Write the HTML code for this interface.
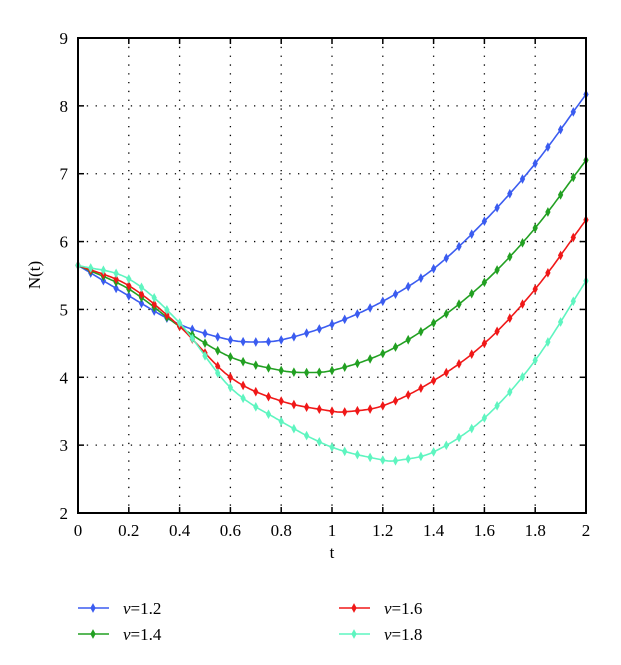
<!DOCTYPE html>
<html><head><meta charset="utf-8"><style>
body{margin:0;background:#fff;}
svg text{font-family:"Liberation Serif",serif;fill:#000;}
</style></head><body>
<svg id="s" width="621" height="660" xmlns="http://www.w3.org/2000/svg">
<rect width="621" height="660" fill="#fff"/>
<g id="grid" stroke="#000" stroke-width="1.3" stroke-dasharray="1.3,7.5"></g>
<g id="ticks" stroke="#000" stroke-width="1.5"></g>
<g id="curves"></g>
<rect x="78" y="38" width="508" height="475" fill="none" stroke="#000" stroke-width="2"/>
<g id="labels" font-size="17"></g>
<text x="332" y="558" font-size="17" text-anchor="middle">t</text>
<text x="40" y="275" font-size="17" text-anchor="middle" transform="rotate(-90 40 275)">N(t)</text>
<g id="legend" font-size="17"></g>
</svg>
<script>
const X=t=>78+t*254, Y=v=>513-(v-2)*67.857;
const ns="http://www.w3.org/2000/svg";
function el(p,tag,a,txt){const e=document.createElementNS(ns,tag);for(const k in a)e.setAttribute(k,a[k]);if(txt!=null)e.textContent=txt;document.getElementById(p).appendChild(e);return e;}
for(let i=1;i<10;i++){const x=X(i*0.2);el('grid','line',{x1:x,y1:38,x2:x,y2:513});el('ticks','line',{x1:x,y1:513,x2:x,y2:507});el('ticks','line',{x1:x,y1:38,x2:x,y2:44});}
for(let v=3;v<9;v++){const y=Y(v);el('grid','line',{x1:78,y1:y,x2:586,y2:y});el('ticks','line',{x1:78,y1:y,x2:84,y2:y});el('ticks','line',{x1:586,y1:y,x2:580,y2:y});}
const xl=['0','0.2','0.4','0.6','0.8','1','1.2','1.4','1.6','1.8','2'];
xl.forEach((s,i)=>el('labels','text',{x:X(i*0.2),y:536,'text-anchor':'middle'},s));
for(let v=2;v<=9;v++)el('labels','text',{x:68,y:Y(v)+6,'text-anchor':'end'},String(v));
const data=[
['#3b5cf0',[[0,5.65],[0.2,5.2],[0.4,4.78],[0.6,4.55],[0.7,4.52],[0.8,4.55],[1.0,4.78],[1.2,5.12],[1.4,5.6],[1.6,6.3],[1.8,7.15],[2.0,8.17]]],
['#22a022',[[0,5.65],[0.2,5.3],[0.4,4.75],[0.6,4.3],[0.8,4.1],[0.9,4.07],[1.0,4.1],[1.2,4.35],[1.4,4.8],[1.6,5.4],[1.8,6.2],[2.0,7.2]]],
['#f01818',[[0,5.65],[0.2,5.35],[0.4,4.75],[0.6,4.0],[0.8,3.65],[1.0,3.5],[1.05,3.49],[1.2,3.58],[1.4,3.95],[1.6,4.5],[1.8,5.3],[2.0,6.32]]],
['#5ff5c0',[[0,5.65],[0.2,5.45],[0.4,4.8],[0.6,3.85],[0.8,3.35],[1.0,2.97],[1.2,2.78],[1.25,2.77],[1.4,2.9],[1.6,3.4],[1.8,4.25],[2.0,5.42]]]];
function interp(p,t){let i=0;while(i<p.length-2&&p[i+1][0]<t)i++;
 const p0=p[Math.max(i-1,0)],p1=p[i],p2=p[i+1],p3=p[Math.min(i+2,p.length-1)];
 const h=p2[0]-p1[0],u=(t-p1[0])/h;
 const m1=(p2[1]-p0[1])/(p2[0]-p0[0]||1)*h, m2=(p3[1]-p1[1])/(p3[0]-p1[0]||1)*h;
 const u2=u*u,u3=u2*u;
 return (2*u3-3*u2+1)*p1[1]+(u3-2*u2+u)*m1+(-2*u3+3*u2)*p2[1]+(u3-u2)*m2;}
function marker(g,x,y,c){el(g,'path',{d:`M${x},${y-4}L${x+2.2},${y}L${x},${y+4}L${x-2.2},${y}Z`,fill:c,stroke:c,'stroke-width':0.8});}
data.forEach(([c,p])=>{let d='';for(let k=0;k<=200;k++){const t=k/100;d+=(k?'L':'M')+X(t).toFixed(1)+','+Y(interp(p,t)).toFixed(1);}
 el('curves','path',{d,fill:'none',stroke:c,'stroke-width':1.6});
 for(let k=0;k<=40;k++){const t=k*0.05;marker('curves',X(t),Y(interp(p,t)),c);}});
const leg=[[78,608,'1.2',0],[78,634,'1.4',1],[339,608,'1.6',2],[339,634,'1.8',3]];
leg.forEach(([x,y,s,i])=>{const c=data[i][0];el('legend','line',{x1:x,y1:y,x2:x+31,y2:y,stroke:c,'stroke-width':1.6});marker('legend',x+15,y,c);
 const t=el('legend','text',{x:x+45,y:y+6});const a=document.createElementNS(ns,'tspan');a.setAttribute('font-style','italic');a.textContent='ν';t.appendChild(a);t.appendChild(document.createTextNode('=1'+s.slice(1)));});
</script>
</body></html>
